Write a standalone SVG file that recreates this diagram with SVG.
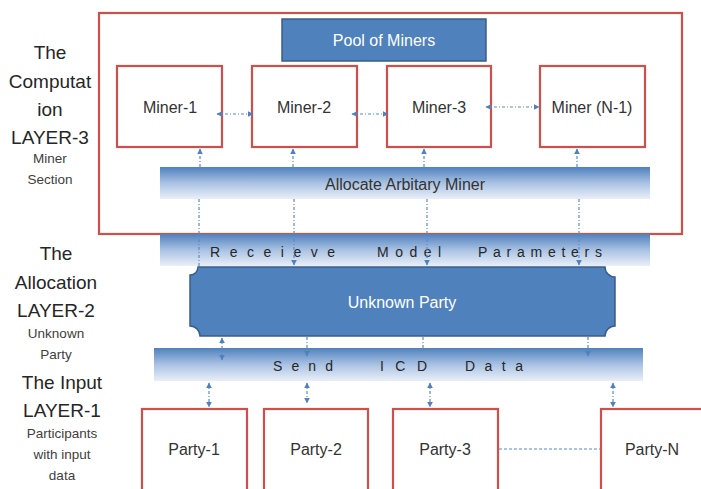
<svg xmlns="http://www.w3.org/2000/svg" width="701" height="489" viewBox="0 0 701 489">
<style>
.red{fill:#fff;stroke:#CD504C;stroke-width:2.2}
.lbl{font-family:"Liberation Sans",Arial,sans-serif;fill:#262626;text-anchor:middle}
.big{font-size:19px}
.sm{font-size:13.5px;fill:#404040}
.node{font-family:"Liberation Sans",Arial,sans-serif;font-size:16px;fill:#333;text-anchor:middle}
.wt{fill:#fff}
.bar{fill:url(#barGrad)}
.sp{font-family:"Liberation Sans",Arial,sans-serif;font-size:14px;fill:#262626}
.con{fill:none;stroke:#5B8AC6;stroke-width:1.2;stroke-dasharray:3 2 1 2}
.dash{fill:none;stroke:#5B8AC6;stroke-width:1.2;stroke-dasharray:3 2}
</style>
<defs>
<linearGradient id="barGrad" x1="0" y1="0" x2="0" y2="1">
<stop offset="0" stop-color="#4F81BD"/>
<stop offset="0.5" stop-color="#A9C2E3"/>
<stop offset="1" stop-color="#E9EFF8"/>
</linearGradient>
<marker id="ah" viewBox="0 0 10 10" refX="9" refY="5" markerWidth="6" markerHeight="6" orient="auto-start-reverse" markerUnits="userSpaceOnUse">
<path d="M0,0 L10,5 L0,10 z" fill="#4F81BD"/>
</marker>
</defs>
<rect width="701" height="489" fill="#fff"/>

<g id="layer-labels">
<text class="lbl big" x="50" y="59">The</text>
<text class="lbl big" x="50" y="88">Computat</text>
<text class="lbl big" x="50" y="116">ion</text>
<text class="lbl big" x="50" y="144">LAYER-3</text>
<text class="lbl sm" x="50" y="163">Miner</text>
<text class="lbl sm" x="50" y="184">Section</text>
<text class="lbl big" x="56" y="260">The</text>
<text class="lbl big" x="56" y="289">Allocation</text>
<text class="lbl big" x="56" y="317">LAYER-2</text>
<text class="lbl sm" x="56" y="338">Unknown</text>
<text class="lbl sm" x="56" y="359">Party</text>
<text class="lbl big" x="62" y="389">The Input</text>
<text class="lbl big" x="62" y="417">LAYER-1</text>
<text class="lbl sm" x="62" y="438">Participants</text>
<text class="lbl sm" x="62" y="459">with input</text>
<text class="lbl sm" x="62" y="480">data</text>
</g>

<g id="computation-layer">
<rect class="red" x="99" y="13" width="583" height="221"/>
</g>

<g id="pool">
<rect x="282" y="19" width="204" height="42" fill="#4F81BD" stroke="#385D8A" stroke-width="1.5"/>
<text class="node wt" x="384" y="46">Pool of Miners</text>
</g>

<g id="miner1">
<rect class="red" x="117" y="66" width="105" height="81"/>
<text class="node" x="170" y="113">Miner-1</text>
</g>
<g id="miner2">
<rect class="red" x="252" y="66" width="105" height="81"/>
<text class="node" x="304" y="113">Miner-2</text>
</g>
<g id="miner3">
<rect class="red" x="387" y="66" width="104" height="81"/>
<text class="node" x="439" y="113">Miner-3</text>
</g>
<g id="minerN1">
<rect class="red" x="540" y="66" width="105" height="81"/>
<text class="node" x="592" y="113">Miner (N-1)</text>
</g>

<g id="allocate-bar">
<rect class="bar" x="160" y="167" width="490" height="32"/>
<text class="node" x="405" y="190">Allocate Arbitary Miner</text>
</g>

<g id="receive-bar">
<rect class="bar" x="160" y="234" width="490" height="32"/>
<text class="sp" x="210" y="257" textLength="125" lengthAdjust="spacing">Receieve</text>
<text class="sp" x="377" y="257" textLength="64" lengthAdjust="spacing">Model</text>
<text class="sp" x="478" y="257" textLength="124" lengthAdjust="spacing">Parameters</text>
</g>

<g id="unknown-party">
<path d="M198 267 H605 A10 10 0 0 0 615 277 V326 A10 10 0 0 0 605 336 H200 A10 10 0 0 0 190 326 V275 A8 8 0 0 0 198 267 Z" fill="#4F81BD" stroke="#385D8A" stroke-width="1.5"/>
<text class="node wt" x="402" y="308">Unknown Party</text>
</g>

<g id="send-bar">
<rect class="bar" x="154" y="348" width="489" height="33"/>
<text class="sp" x="273" y="371" textLength="60" lengthAdjust="spacing">Send</text>
<text class="sp" x="380" y="371" textLength="47" lengthAdjust="spacing">ICD</text>
<text class="sp" x="465" y="371" textLength="58" lengthAdjust="spacing">Data</text>
</g>

<g id="party1">
<rect class="red" x="142" y="409" width="105" height="82"/>
<text class="node" x="194" y="455">Party-1</text>
</g>
<g id="party2">
<rect class="red" x="264" y="409" width="104" height="82"/>
<text class="node" x="316" y="455">Party-2</text>
</g>
<g id="party3">
<rect class="red" x="393" y="409" width="105" height="82"/>
<text class="node" x="445" y="455">Party-3</text>
</g>
<g id="partyN">
<rect class="red" x="601" y="409" width="110" height="82"/>
<text class="node" x="652" y="455">Party-N</text>
</g>

<g id="connectors">
<line class="con" x1="217" y1="114" x2="253" y2="114" marker-start="url(#ah)" marker-end="url(#ah)"/>
<line class="con" x1="352" y1="114" x2="388" y2="114" marker-start="url(#ah)" marker-end="url(#ah)"/>
<line class="con" x1="486" y1="107" x2="539" y2="107" marker-start="url(#ah)" marker-end="url(#ah)"/>
<line class="con" x1="200" y1="167" x2="200" y2="149" marker-end="url(#ah)"/>
<line class="con" x1="293" y1="167" x2="293" y2="149" marker-end="url(#ah)"/>
<line class="con" x1="424" y1="167" x2="424" y2="149" marker-end="url(#ah)"/>
<line class="con" x1="577" y1="167" x2="577" y2="149" marker-end="url(#ah)"/>
<line class="con" x1="199" y1="199" x2="199" y2="272"/>
<line class="con" x1="294" y1="199" x2="294" y2="265" marker-end="url(#ah)"/>
<line class="con" x1="427" y1="199" x2="427" y2="265" marker-end="url(#ah)"/>
<line class="con" x1="579" y1="199" x2="579" y2="265" marker-end="url(#ah)"/>
<line class="con" x1="222" y1="338" x2="222" y2="360" marker-start="url(#ah)" marker-end="url(#ah)"/>
<line class="con" x1="307" y1="337" x2="307" y2="356" marker-end="url(#ah)"/>
<line class="con" x1="423" y1="337" x2="423" y2="352"/>
<line class="con" x1="588" y1="337" x2="588" y2="356" marker-end="url(#ah)"/>
<line class="con" x1="209" y1="383" x2="209" y2="407" marker-start="url(#ah)" marker-end="url(#ah)"/>
<line class="con" x1="307" y1="383" x2="307" y2="403" marker-start="url(#ah)" marker-end="url(#ah)"/>
<line class="con" x1="430" y1="383" x2="430" y2="407" marker-start="url(#ah)" marker-end="url(#ah)"/>
<line class="con" x1="613" y1="383" x2="613" y2="407" marker-start="url(#ah)" marker-end="url(#ah)"/>
<line class="dash" x1="499" y1="449" x2="600" y2="449"/>
</g>
</svg>
